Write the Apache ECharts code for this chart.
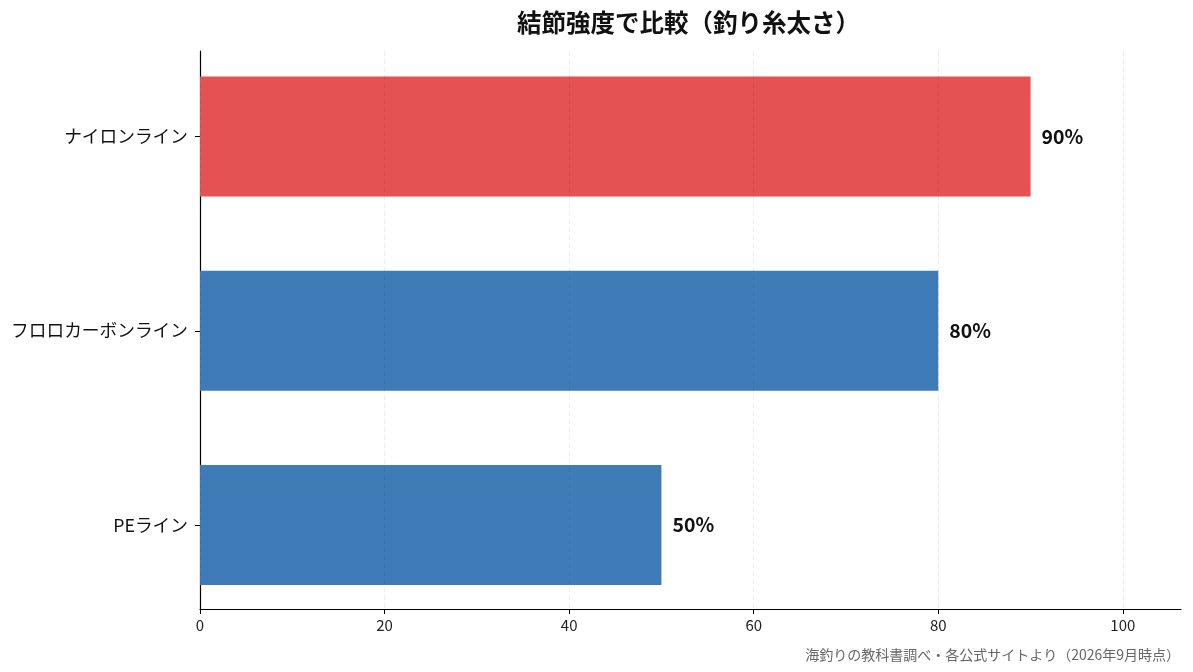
<!DOCTYPE html>
<html>
<head>
<meta charset="utf-8">
<script src="https://cdn.jsdelivr.net/npm/echarts@6/dist/echarts.min.js"></script>
<style>
  html, body { margin: 0; padding: 0; background: #fff; }
  #chart { width: 1193px; height: 672px; }
</style>
</head>
<body>
<div id="chart"></div>
<script>
// Knot strength comparison by line type (horizontal bars).

const categories = ["PEライン", "フロロカーボンライン", "ナイロンライン"];
const strengths = [50, 80, 90];
const highlightName = "ナイロンライン";
const xTicks = [0, 20, 40, 60, 80, 100];

const titleText = "結節強度で比較（釣り糸太さ）";
const sourceText = "海釣りの教科書調べ・各公式サイトより（2026年9月時点）";

const FONT = "'Noto Sans CJK JP', 'Noto Sans', sans-serif";
const RED = "#e55253";
const BLUE = "#3f7bb7";
const X_MAX = 106.3;

const chart = echarts.init(document.getElementById("chart"));

const barData = strengths.map((value, i) => ({
  value,
  itemStyle: { color: categories[i] === highlightName ? RED : BLUE },
}));

chart.setOption({
  animation: false,
  textStyle: { fontFamily: FONT },
  title: [
    {
      text: titleText,
      left: 512,
      top: 5,
      textStyle: { fontFamily: FONT, fontSize: 24.5, fontWeight: "bold", color: "#111" },
    },
    {
      text: sourceText,
      right: 8,
      bottom: 5,
      textStyle: { fontFamily: FONT, fontSize: 14, fontWeight: "normal", color: "#666" },
    },
  ],
  // grid 0 holds the bars and category labels, grid 1 the frame and x scale
  grid: [
    { left: 200, right: 12, top: 39.5, bottom: 50, containLabel: false },
    { left: 200, right: 12, top: 51, bottom: 63, containLabel: false },
  ],
  xAxis: [
    {
      gridIndex: 0,
      type: "value",
      min: 0,
      max: X_MAX,
      show: false,
    },
    {
      gridIndex: 1,
      type: "value",
      min: 0,
      max: X_MAX,
      interval: 20,
      z: 3,
      axisLine: { show: true, lineStyle: { color: "#000", width: 1.2 } },
      axisTick: { show: true, length: 5, customValues: xTicks, lineStyle: { color: "#000" } },
      axisLabel: {
        margin: 9,
        fontSize: 15,
        color: "#222",
        fontFamily: FONT,
        formatter: (v) => (xTicks.includes(v) ? String(v) : ""),
      },
      splitLine: {
        show: true,
        lineStyle: { color: "rgba(0,0,0,0.07)", type: [5, 3], width: 1 },
      },
    },
  ],
  yAxis: [
    {
      gridIndex: 0,
      type: "category",
      data: categories,
      axisLine: { show: false },
      axisTick: { show: true, alignWithLabel: true, length: 5, lineStyle: { color: "#000" } },
      axisLabel: { margin: 12, fontSize: 17.7, color: "#111", fontFamily: FONT },
    },
    {
      gridIndex: 1,
      type: "value",
      min: 0,
      max: 1,
      axisLine: { show: true, lineStyle: { color: "#000", width: 1.2 } },
      axisTick: { show: false },
      axisLabel: { show: false },
      splitLine: { show: false },
    },
  ],
  series: [
    {
      type: "bar",
      xAxisIndex: 0,
      yAxisIndex: 0,
      data: barData,
      barWidth: 120,
      label: {
        show: true,
        position: "right",
        distance: 11,
        formatter: "{c}%",
        fontFamily: FONT,
        fontSize: 19.5,
        fontWeight: "bold",
        color: "#111",
      },
    },
  ],
});
</script>
</body>
</html>
